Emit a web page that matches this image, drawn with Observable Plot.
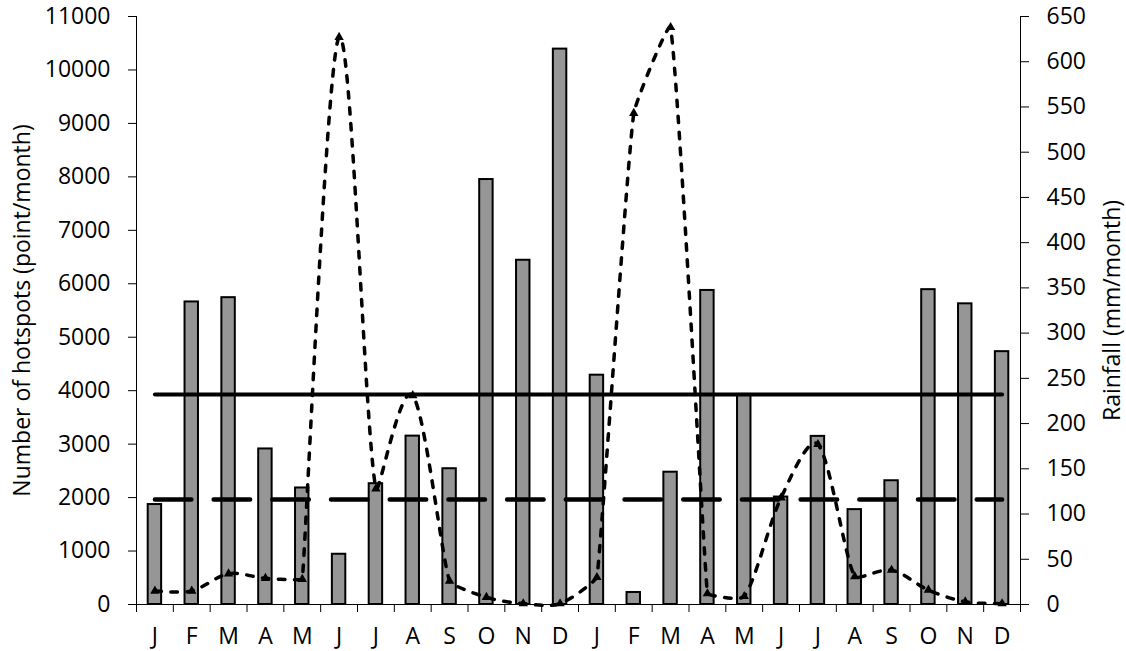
<!DOCTYPE html>
<html>
<head>
<meta charset="utf-8">
<script src="https://cdn.jsdelivr.net/npm/d3@7"></script>
<script src="https://cdn.jsdelivr.net/npm/@observablehq/plot@0.6"></script>
<style>
  body { margin: 0; background: #fff; }
  svg { display: block; }
</style>
</head>
<body>
<div id="chart"></div>
<script>
// ---- data ----
const months = ["J","F","M","A","M","J","J","A","S","O","N","D",
                "J","F","M","A","M","J","J","A","S","O","N","D"];
const hotspots = [1870, 5660, 5740, 2910, 2180, 940, 2260, 3150, 2540, 7950, 6440, 10390,
                  4290, 225, 2475, 5875, 3930, 2010, 3145, 1775, 2315, 5890, 5625, 4730];
const rainfall = [15, 15, 34, 29, 28, 627, 128, 231, 26, 8, 1, 1,
                  30, 543, 638, 12, 9, 118, 177, 31, 38, 16, 3, 1];
const hotspotMean = 3930;
const hotspotHalfMean = 1965;
const leftTicks = [0, 1000, 2000, 3000, 4000, 5000, 6000, 7000, 8000, 9000, 10000, 11000];
const rightTicks = [0, 50, 100, 150, 200, 250, 300, 350, 400, 450, 500, 550, 600, 650];
const leftTitle = "Number of hotspots (point/month)";
const rightTitle = "Rainfall (mm/month)";

// ---- spreadsheet-style smoothed curve (a d3 curve factory used by Plot) ----
function controlPoint(pPrev, p, pNext) {
  const tx = pNext[0] - pPrev[0], ty = pNext[1] - pPrev[1];
  const tl = Math.hypot(tx, ty);
  if (!tl) return p;
  const dPrev = Math.hypot(p[0] - pPrev[0], p[1] - pPrev[1]);
  const dNext = Math.hypot(pNext[0] - p[0], pNext[1] - p[1]);
  let dist = tl / 6;
  if (dPrev > 0) dist = Math.min(dist, dNext / 3 * 2 * Math.min(dPrev, dNext) / (dPrev + dNext));
  else dist = Math.min(dist, dNext / 3);
  return [p[0] + tx / tl * dist, p[1] + ty / tl * dist];
}
function smoothCurve(context) {
  let pts;
  return {
    areaStart() {}, areaEnd() {},
    lineStart() { pts = []; },
    point(x, y) { pts.push([+x, +y]); },
    lineEnd() {
      const n = pts.length;
      if (!n) return;
      context.moveTo(pts[0][0], pts[0][1]);
      for (let i = 0; i < n - 1; i++) {
        const p0 = pts[Math.max(0, i - 1)], p1 = pts[i], p2 = pts[i + 1], p3 = pts[Math.min(n - 1, i + 2)];
        const c1 = controlPoint(p0, p1, p2);
        const c2 = controlPoint(p3, p2, p1);
        context.bezierCurveTo(c1[0], c1[1], c2[0], c2[1], p2[0], p2[1]);
      }
    }
  };
}

// ---- derived ----
const yMax = leftTicks[leftTicks.length - 1];
const rainMax = rightTicks[rightTicks.length - 1];
const k = yMax / rainMax;
const data = months.map((m, i) => ({i, month: m, hot: hotspots[i], rain: rainfall[i]}));
const boundaries = months.map((_, i) => i).concat(months.length);
const fmt = d3.format("d");

const chart = Plot.plot({
  width: 1126,
  height: 651,
  marginLeft: 136,
  marginRight: 106,
  marginTop: 16,
  marginBottom: 47,
  style: {fontFamily: "'Open Sans', sans-serif", fontSize: "23px", color: "#000", background: "#fff"},
  x: {type: "linear", domain: [0, months.length], label: null},
  y: {domain: [0, yMax], label: null},
  marks: [
    Plot.rectY(data, {x1: d => d.i, x2: d => d.i + 1, y: "hot", insetLeft: 11.7, insetRight: 11.7,
      fill: "#969696", stroke: "#000", strokeWidth: 2}),
    Plot.line(data, {x: d => d.i + 0.5, y: () => hotspotMean, stroke: "#000", strokeWidth: 4}),
    Plot.line(data, {x: d => d.i + 0.5, y: () => hotspotHalfMean, stroke: "#000", strokeWidth: 4.5,
      strokeDasharray: "36.5,22.2", strokeLinecap: "round"}),
    Plot.line(data, {x: d => d.i + 0.5, y: d => d.rain * k, curve: smoothCurve, stroke: "#000",
      strokeWidth: 3.5, strokeDasharray: "6.5,9.5", strokeLinecap: "round"}),
    Plot.dot(data, {x: d => d.i + 0.5, y: d => d.rain * k, symbol: "triangle", r: 3.5, fill: "#000", stroke: "none"}),
    Plot.ruleX([0, months.length], {stroke: "#000", strokeWidth: 1}),
    Plot.ruleY([0], {stroke: "#000", strokeWidth: 1.2}),
    Plot.axisY({ticks: leftTicks, tickSize: 8, tickPadding: 18, tickFormat: fmt, label: null}),
    Plot.axisY({anchor: "right", ticks: rightTicks.map(r => r * k), tickSize: 8, tickPadding: 18,
      tickFormat: v => fmt(Math.round(v / k)), label: null}),
    Plot.axisX({ticks: boundaries, tickSize: 8, tickFormat: () => "", label: null}),
    Plot.axisX({ticks: data.map(d => d.i + 0.5), tickSize: 0, tickPadding: 23,
      tickFormat: v => months[Math.floor(v)], label: null}),
    Plot.text([leftTitle], {text: d => d, frameAnchor: "left", textAnchor: "middle", dx: -114, rotate: -90, fontSize: 23, fill: "#000"}),
    Plot.text([rightTitle], {text: d => d, frameAnchor: "right", textAnchor: "middle", dx: 92, rotate: -90, fontSize: 23, fill: "#000"})
  ]
});
document.getElementById("chart").appendChild(chart);
</script>
</body>
</html>
